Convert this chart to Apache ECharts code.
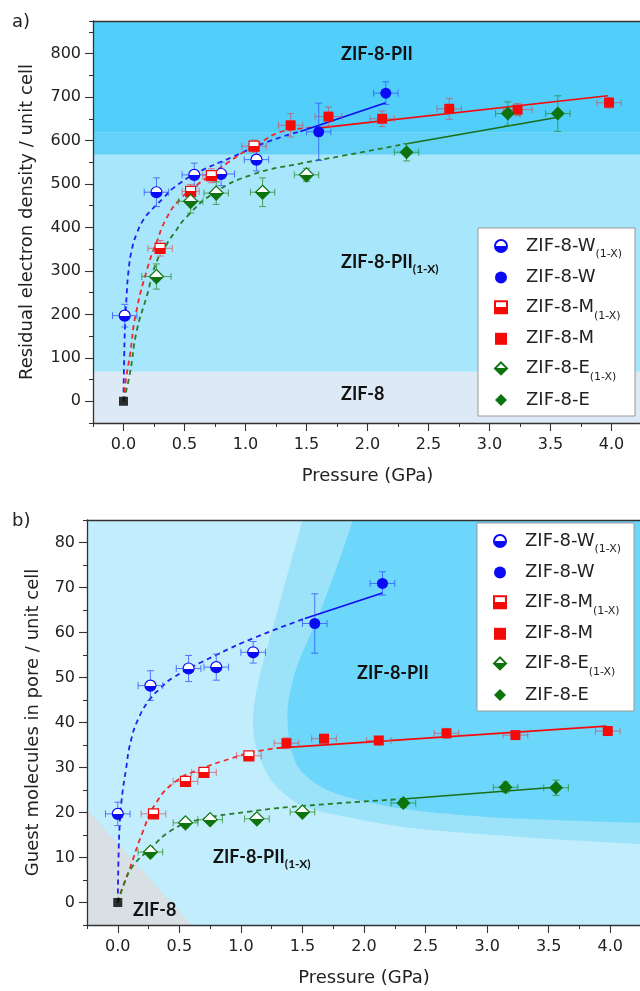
<!DOCTYPE html>
<html><head><meta charset="utf-8">
<script src="https://cdn.jsdelivr.net/npm/echarts@6/dist/echarts.min.js"></script>
<style>html,body{margin:0;padding:0;background:#fff}#c{width:640px;height:991px}</style>
</head><body><div id="c"></div>
<script>
// ---------------- DATA ----------------
// points: [pressure GPa, value, xErr, yErr]
// Panel a) residual electron density / unit cell
const aW1x = [[0.01,197,0.1,26],[0.27,481,0.1,33],[0.58,521,0.1,27],[0.80,523,0.11,27],[1.09,556,0.1,26]];
const aW   = [[1.60,620,0.1,66],[2.15,709,0.1,26]];
const aM1x = [[0.30,352,0.1,18],[0.55,483,0.07,16],[0.72,519,0.07,16],[1.07,587,0.1,14]];
const aM   = [[1.37,635,0.1,27],[1.68,655,0.11,22],[2.12,650,0.1,18],[2.67,673,0.1,24],[3.23,671,0.12,14],[3.98,687,0.1,12]];
const aE1x = [[0.27,287,0.12,29],[0.55,460,0.1,27],[0.76,479,0.1,26],[1.14,481,0.1,33],[1.50,521,0.1,15]];
const aE   = [[2.32,573,0.1,20],[3.15,662,0.1,27],[3.56,662,0.1,41]];
const aZIF8 = [[0,0]];
const aBlueDash  = [[0,0],[0.004,80],[0.012,170],[0.025,240],[0.041,300],[0.069,350],[0.11,387],[0.164,418],[0.232,441],[0.328,468],[0.41,491],[0.6,525],[0.9,563],[1.17,596],[1.45,621]];
const aRedDash   = [[0,0],[0.02,50],[0.055,110],[0.1,200],[0.2,310],[0.27,365],[0.35,420],[0.46,464],[0.6,497],[0.72,522],[0.85,548],[1.07,587],[1.37,625],[1.61,630]];
const aGreenDash = [[0,0],[0.05,60],[0.11,164],[0.19,241],[0.27,320],[0.355,362],[0.41,385],[0.52,425],[0.74,479],[1.06,522],[1.45,547],[1.8,565],[2.31,592]];
const aBlueSolid  = [[1.45,621],[2.15,687]];
const aRedSolid   = [[1.61,629],[3.97,703]];
const aGreenSolid = [[2.31,592],[3.55,653]];
const aBandEdges = [-50, 68, 567, 618, 875];

// Panel b) guest molecules in pore / unit cell
const bW1x = [[0.0,19.7,0.1,2.6],[0.265,48.2,0.1,3.3],[0.575,52.0,0.1,2.9],[0.80,52.3,0.1,2.9],[1.10,55.6,0.1,2.4]];
const bW   = [[1.60,62.0,0.1,6.6],[2.15,70.9,0.1,2.6]];
const bM1x = [[0.29,19.7,0.1,0.8],[0.55,26.9,0.1,0.9],[0.70,28.9,0.1,1.0],[1.065,32.6,0.1,0.9]];
const bM   = [[1.37,35.4,0.1,1.2],[1.675,36.4,0.1,0.9],[2.12,36.0,0.1,0.9],[2.67,37.6,0.1,1.1],[3.23,37.2,0.1,0.8],[3.98,38.1,0.1,0.8]];
const bE1x = [[0.265,11.2,0.1,1.0],[0.55,17.7,0.1,1.0],[0.75,18.4,0.1,0.9],[1.13,18.6,0.1,1.0],[1.50,20.1,0.1,0.8]];
const bE   = [[2.32,22.1,0.1,1.0],[3.15,25.6,0.1,1.2],[3.56,25.5,0.1,1.7]];
const bZIF8 = [[0,0]];
const bBlueDash  = [[0,0],[0.006,10],[0.015,17],[0.03,22.5],[0.066,29.5],[0.107,36],[0.175,41.3],[0.256,45],[0.338,47.4],[0.446,49.9],[0.8,55],[1.125,59],[1.52,63.1]];
const bRedDash   = [[0,0],[0.04,3.5],[0.094,7.3],[0.2,15.5],[0.31,22.1],[0.47,26.9],[0.66,29.5],[0.93,32.1],[1.1,33.4],[1.29,34.3]];
const bGreenDash = [[0,0],[0.05,4],[0.12,8.0],[0.256,11.75],[0.446,16.2],[0.66,18.4],[1.07,20.2],[1.48,21.4],[2.32,23.0]];
const bBlueSolid  = [[1.52,63.1],[2.15,68.8]];
const bRedSolid   = [[1.29,34.3],[3.97,39.2]];
const bGreenSolid = [[2.32,23.0],[3.55,25.6]];
const bGreyRegion = [[-0.25,-5],[-0.25,20.6],[0.6,-5]];
const bMidRegion  = [[1.60,95],[1.50,85],[1.30,65],[1.15,50],[1.10,42],[1.12,35],[1.25,27],[1.5,21.5],[2.0,18.3],[2.4,16.5],[3.3,14.5],[4.25,13.0],[4.6,12.8],[4.6,95]];
const bDarkRegion = [[2.0,95],[1.91,85],[1.65,65],[1.45,52],[1.38,43],[1.40,35],[1.48,29.5],[1.7,25],[2.0,22.5],[2.37,20.6],[3.0,19.0],[3.6,18.3],[4.25,17.7],[4.6,17.5],[4.6,95]];

const seriesNames = ['ZIF-8-W(1-X)','ZIF-8-W','ZIF-8-M(1-X)','ZIF-8-M','ZIF-8-E(1-X)','ZIF-8-E'];
const xRange = [-0.25, 4.25];
const xMajor = [0, 4];
const aYRange = [-50, 875];
const aYMajor = [0, 800];
const bYRange = [-5, 85];
const bYMajor = [0, 80];

// ---------------- STYLE / LAYOUT ----------------
const FONT = 'DejaVu Sans';
const BLUE = '#0a0af5', RED = '#f50a0a', GREEN = '#0d740d';
const ERR = {blue:'rgba(50,90,255,0.8)', red:'rgba(215,70,80,0.65)', green:'rgba(40,140,40,0.75)'};
const aBandColors = ['#dde9f4','#a7e6fb','#64d2f8','#52cefa'];
const bColors = {base:'#c1edfc', grey:'#d8dfe5', mid:'#9ce2f9', dark:'#6dd6fb'};
const GA = {left:93, top:21, width:549, height:402, outerBoundsMode:'none'};
const GB = {left:87, top:520, width:554, height:405, outerBoundsMode:'none'};

function half(c){
  return {type:'linear',x:0,y:0,x2:0,y2:1,colorStops:[
    {offset:0,color:'#ffffff'},{offset:0.5,color:'#ffffff'},{offset:0.5,color:c},{offset:1,color:c}]};
}
const markerDefs = [
  {name:seriesNames[0], symbol:'circle', size:11, color:BLUE, half:true, err:ERR.blue},
  {name:seriesNames[1], symbol:'circle', size:11, color:BLUE, half:false, err:ERR.blue},
  {name:seriesNames[2], symbol:'rect', size:10, color:RED, half:true, err:ERR.red},
  {name:seriesNames[3], symbol:'rect', size:10, color:RED, half:false, err:ERR.red},
  {name:seriesNames[4], symbol:'diamond', size:14, color:GREEN, half:true, err:ERR.green},
  {name:seriesNames[5], symbol:'diamond', size:14, color:GREEN, half:false, err:ERR.green}
];

function errRender(color){
  return function(params, api){
    const x=api.value(0), y=api.value(1), xe=api.value(2), ye=api.value(3);
    const t=api.coord([x,y+ye]), b=api.coord([x,y-ye]);
    const l=api.coord([x-xe,y]), r=api.coord([x+xe,y]);
    const h=3.5;
    const st={stroke:color,lineWidth:1,fill:null};
    const L=(x1,y1,x2,y2)=>({type:'line',shape:{x1,y1,x2,y2},style:st});
    return {type:'group',children:[
      L(t[0],t[1],b[0],b[1]), L(t[0]-h,t[1],t[0]+h,t[1]), L(b[0]-h,b[1],b[0]+h,b[1]),
      L(l[0],l[1],r[0],r[1]), L(l[0],l[1]-h,l[0],l[1]+h), L(r[0],r[1]-h,r[0],r[1]+h)
    ]};
  };
}
function polyRender(polys, colors){
  return function(params, api){
    const i = params.dataIndex;
    return {type:'polygon', shape:{points: polys[i].map(p=>api.coord(p)), smooth: polys[i].length>4?0.3:0},
            style:{fill:colors[i], stroke:null}};
  };
}
function rectPolys(edges, xr){
  const out=[];
  for(let i=0;i<edges.length-1;i++){
    out.push([[xr[0],edges[i]],[xr[1],edges[i]],[xr[1],edges[i+1]],[xr[0],edges[i+1]]]);
  }
  return out;
}

function panelSeries(gi, groups, curves, bgPolys, bgColors){
  const xi = gi*2, yi = gi*2;
  const s = [];
  s.push({type:'custom', name:'bg'+gi, xAxisIndex:xi, yAxisIndex:yi, clip:true, z:0, silent:true,
    renderItem: polyRender(bgPolys, bgColors), data: bgPolys.map(p=>p[0]), encode:{x:0,y:1}});
  curves.forEach(c=>{
    s.push({type:'line', name:'fit', xAxisIndex:xi, yAxisIndex:yi, data:c.data, showSymbol:false, symbol:'none',
      smooth:c.dash?0.5:false, z:3, silent:true, clip:true,
      lineStyle:{color:c.color, width:c.dash?1.8:1.6, type:c.dash?[5,4]:'solid'}});
  });
  markerDefs.forEach((m,k)=>{
    s.push({type:'custom', name:'err-'+m.name, xAxisIndex:xi, yAxisIndex:yi, z:4, silent:true,
      renderItem: errRender(m.err), data: groups[k], encode:{x:0,y:1}});
  });
  markerDefs.forEach((m,k)=>{
    s.push({type:'scatter', name:m.name, xAxisIndex:xi, yAxisIndex:yi, z:5, symbol:m.symbol, symbolSize:m.size,
      data: groups[k].map(p=>[p[0],p[1]]),
      itemStyle:{color: m.half?half(m.color):m.color, borderColor:m.color, borderWidth:m.half?1.2:0, opacity:1}});
  });
  s.push({type:'scatter', name:'ZIF-8', xAxisIndex:xi, yAxisIndex:yi, z:6, symbol:'rect', symbolSize:9,
    data: gi===0?aZIF8:bZIF8, itemStyle:{color:'#000'}});
  return s;
}

const series = [].concat(
  panelSeries(0, [aW1x,aW,aM1x,aM,aE1x,aE], [
    {data:aBlueDash,color:'#2020f0',dash:true},{data:aRedDash,color:'#f02828',dash:true},{data:aGreenDash,color:'#2a7a2a',dash:true},
    {data:aBlueSolid,color:BLUE},{data:aRedSolid,color:RED},{data:aGreenSolid,color:'#1a6e1a'}],
    rectPolys(aBandEdges, [xRange[0]-0.1, xRange[1]+0.1]), aBandColors),
  panelSeries(1, [bW1x,bW,bM1x,bM,bE1x,bE], [
    {data:bBlueDash,color:'#2020f0',dash:true},{data:bRedDash,color:'#f02828',dash:true},{data:bGreenDash,color:'#2a7a2a',dash:true},
    {data:bBlueSolid,color:BLUE},{data:bRedSolid,color:RED},{data:bGreenSolid,color:'#1a6e1a'}],
    [rectPolys([bYRange[0]-1,bYRange[1]+1],[xRange[0]-0.1,xRange[1]+0.1])[0], bGreyRegion, bMidRegion, bDarkRegion],
    [bColors.base, bColors.grey, bColors.mid, bColors.dark])
);

const near = (v,s)=>Math.abs(v/s-Math.round(v/s))<1e-6;
const xLab = v => near(v,0.5) && v>=xMajor[0] && v<=xMajor[1] ? v.toFixed(1) : '';
const lineSt = {color:'#333', width:1.3};
function xAxes(gi){
  return [
    {gridIndex:gi, type:'value', min:xRange[0], max:xRange[1], interval:0.25, position:'bottom', z:10,
     name:'Pressure (GPa)', nameLocation:'middle', nameGap:44,
     nameTextStyle:{fontSize:18, fontFamily:FONT, color:'#222'},
     axisLine:{show:true,onZero:false,lineStyle:lineSt}, axisTick:{show:true,length:4,lineStyle:{color:'#333'}},
     axisLabel:{formatter:xLab, fontSize:16, margin:14, color:'#222', fontFamily:FONT}, splitLine:{show:false}},
    {gridIndex:gi, type:'value', min:xRange[0], max:xRange[1], position:'top', z:10,
     axisLine:{show:true,onZero:false,lineStyle:lineSt}, axisTick:{show:false}, axisLabel:{show:false}, splitLine:{show:false}}
  ];
}
function yAxes(gi, yr, ymaj, itv, step, name, gap){
  return [
    {gridIndex:gi, type:'value', min:yr[0], max:yr[1], interval:itv, position:'left', z:10,
     name:name, nameLocation:'middle', nameGap:gap,
     nameTextStyle:{fontSize:18, fontFamily:FONT, color:'#222'},
     axisLine:{show:true,onZero:false,lineStyle:lineSt}, axisTick:{show:true,length:4,lineStyle:{color:'#333'}},
     axisLabel:{formatter:v=> near(v,step)&&v>=ymaj[0]&&v<=ymaj[1] ? String(v):'', fontSize:16, margin:12, color:'#222', fontFamily:FONT},
     splitLine:{show:false}},
    {gridIndex:gi, type:'value', min:yr[0], max:yr[1], position:'right', z:10,
     axisLine:{show:false}, axisTick:{show:false}, axisLabel:{show:false}, splitLine:{show:false}}
  ];
}
// overlay grids that carry only the longer major ticks
function majorGrid(g, yr, ymaj){
  const ux = g.width/(xRange[1]-xRange[0]), uy = g.height/(yr[1]-yr[0]);
  const left = g.left + (xMajor[0]-xRange[0])*ux, width = (xMajor[1]-xMajor[0])*ux;
  const top = g.top + (yr[1]-ymaj[1])*uy, height = (ymaj[1]-ymaj[0])*uy;
  return {grid:{left, top, width, height, outerBoundsMode:'none'}, xOff: g.top+g.height-(top+height), yOff: left-g.left};
}
const MA = majorGrid(GA, aYRange, aYMajor), MB = majorGrid(GB, bYRange, bYMajor);
function majX(gi, off){ return {gridIndex:gi, type:'value', min:xMajor[0], max:xMajor[1], interval:0.5, position:'bottom', offset:off, z:11,
  axisLine:{show:false,onZero:false}, axisTick:{show:true,length:8,lineStyle:{color:'#333',width:1.1}}, axisLabel:{show:false}, splitLine:{show:false}}; }
function majY(gi, off, ymaj, itv){ return {gridIndex:gi, type:'value', min:ymaj[0], max:ymaj[1], interval:itv, position:'left', offset:off, z:11,
  axisLine:{show:false,onZero:false}, axisTick:{show:true,length:8,lineStyle:{color:'#333',width:1.1}}, axisLabel:{show:false}, splitLine:{show:false}}; }

function legendFor(left, top){
  return {
    left:left, top:top, orient:'vertical', data:seriesNames, selectedMode:false,
    itemWidth:12, itemHeight:12, itemGap:8.6, padding:[6,13,7,16],
    backgroundColor:'#fff', borderColor:'#999', borderWidth:1,
    formatter: n => n.endsWith('(1-X)') ? '{m|'+n.replace('(1-X)','')+'}{s|(1-X)}' : '{m|'+n+'}',
    textStyle:{fontFamily:FONT, color:'#222', rich:{
      m:{fontSize:18, fontFamily:FONT, color:'#222', lineHeight:24, padding:[0,0,0,14]},
      s:{fontSize:11, fontFamily:FONT, color:'#222', lineHeight:10, verticalAlign:'top', padding:[15,0,0,0]}}}
  };
}

const lbl = (x,y,main,sub)=>({type:'text', x:x, y:y, z:50,
  style:{text: sub?'{a|'+main+'}{b|'+sub+'}':'{a|'+main+'}', verticalAlign:'middle',
   rich:{a:{font:'bold 18px Lato', fill:'#111', lineHeight:22},
         b:{font:'bold 12px Lato', fill:'#111', lineHeight:8, verticalAlign:'top', padding:[12,0,0,0]}}}});

const option = {
  animation:false,
  backgroundColor:'#fff',
  grid:[GA, GB, MA.grid, MB.grid],
  xAxis:[].concat(xAxes(0), xAxes(1), [majX(2, MA.xOff), majX(3, MB.xOff)]),
  yAxis:[].concat(yAxes(0,aYRange,aYMajor,50,100,'Residual electron density / unit cell',57),
                  yAxes(1,bYRange,bYMajor,5,10,'Guest molecules in pore / unit cell',45),
                  [majY(2, MA.yOff, aYMajor, 100), majY(3, MB.yOff, bYMajor, 10)]),
  legend:[legendFor(478,228), legendFor(477,523)],
  series: series,
  graphic:[
    {type:'text', x:12, y:22, style:{text:'a)', font:'18px "'+FONT+'"', fill:'#222', verticalAlign:'middle'}},
    {type:'text', x:12, y:521, style:{text:'b)', font:'18px "'+FONT+'"', fill:'#222', verticalAlign:'middle'}},
    lbl(341,54,'ZIF-8-PII'),
    lbl(341,262,'ZIF-8-PII','(1-X)'),
    lbl(341,394,'ZIF-8'),
    lbl(357,673,'ZIF-8-PII'),
    lbl(213,857,'ZIF-8-PII','(1-X)'),
    lbl(133,910,'ZIF-8')
  ]
};
const chart = echarts.init(document.getElementById('c'), null, {renderer:'canvas'});
chart.setOption(option);
</script></body></html>
